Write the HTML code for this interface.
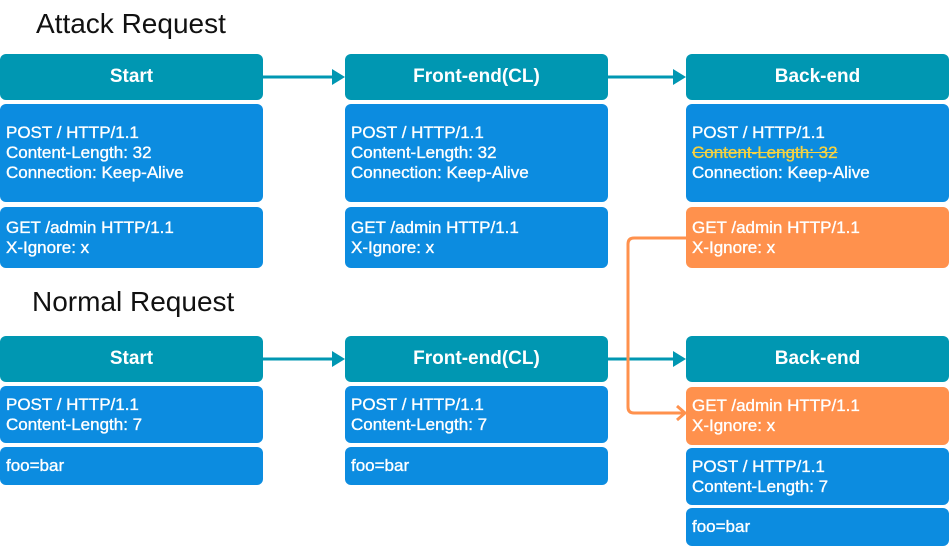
<!DOCTYPE html>
<html><head><meta charset="utf-8"><style>
body{margin:0;width:950px;height:546px;background:#fff;position:relative;overflow:hidden;font-family:"Liberation Sans",sans-serif}
.b{position:absolute;border-radius:6px;color:#fff;box-sizing:border-box}
.h{background:#0097b2;font-weight:bold;font-size:19px;text-align:center;line-height:46px;height:46px}
.t,.o{font-size:17px;line-height:20px;padding-left:6px;-webkit-text-stroke:0.35px #fff}
.t{background:#0c8ce0}
.o{background:#ff914d}
.ti{position:absolute;font-size:28px;color:#111}
s{color:#f5d142;-webkit-text-stroke:0.35px #f5d142;text-decoration-color:#f5d142}
</style></head><body>
<div class="ti" style="left:36px;top:8px">Attack Request</div>
<div class="ti" style="left:32px;top:286px">Normal Request</div>

<div class="b h" style="left:0;top:54px;width:263px">Start</div>
<div class="b t" style="left:0;top:104px;width:263px;height:98px;padding-top:19px">POST / HTTP/1.1<br>Content-Length: 32<br>Connection: Keep-Alive</div>
<div class="b t" style="left:0;top:207px;width:263px;height:61px;padding-top:11px">GET /admin HTTP/1.1<br>X-Ignore: x</div>

<div class="b h" style="left:345px;top:54px;width:263px">Front-end(CL)</div>
<div class="b t" style="left:345px;top:104px;width:263px;height:98px;padding-top:19px">POST / HTTP/1.1<br>Content-Length: 32<br>Connection: Keep-Alive</div>
<div class="b t" style="left:345px;top:207px;width:263px;height:61px;padding-top:11px">GET /admin HTTP/1.1<br>X-Ignore: x</div>

<div class="b h" style="left:686px;top:54px;width:263px">Back-end</div>
<div class="b t" style="left:686px;top:104px;width:263px;height:98px;padding-top:19px">POST / HTTP/1.1<br><s>Content-Length: 32</s><br>Connection: Keep-Alive</div>
<div class="b o" style="left:686px;top:207px;width:263px;height:61px;padding-top:11px">GET /admin HTTP/1.1<br>X-Ignore: x</div>

<div class="b h" style="left:0;top:336px;width:263px">Start</div>
<div class="b t" style="left:0;top:386px;width:263px;height:57px;padding-top:9px">POST / HTTP/1.1<br>Content-Length: 7</div>
<div class="b t" style="left:0;top:447px;width:263px;height:38px;line-height:38px">foo=bar</div>

<div class="b h" style="left:345px;top:336px;width:263px">Front-end(CL)</div>
<div class="b t" style="left:345px;top:386px;width:263px;height:57px;padding-top:9px">POST / HTTP/1.1<br>Content-Length: 7</div>
<div class="b t" style="left:345px;top:447px;width:263px;height:38px;line-height:38px">foo=bar</div>

<div class="b h" style="left:686px;top:336px;width:263px">Back-end</div>
<div class="b o" style="left:686px;top:387px;width:263px;height:58px;padding-top:9px">GET /admin HTTP/1.1<br>X-Ignore: x</div>
<div class="b t" style="left:686px;top:448px;width:263px;height:57px;padding-top:9px">POST / HTTP/1.1<br>Content-Length: 7</div>
<div class="b t" style="left:686px;top:508px;width:263px;height:38px;line-height:38px">foo=bar</div>

<svg style="position:absolute;left:0;top:0" width="950" height="546">
<g stroke="#0097b2" stroke-width="3" fill="#0097b2">
<line x1="263" y1="77" x2="334" y2="77"/><polygon points="332,69 345,77 332,85" stroke="none"/>
<line x1="608" y1="77" x2="675" y2="77"/><polygon points="673,69 686,77 673,85" stroke="none"/>
<line x1="263" y1="359" x2="334" y2="359"/><polygon points="332,351 345,359 332,367" stroke="none"/>
<line x1="608" y1="359" x2="675" y2="359"/><polygon points="673,351 686,359 673,367" stroke="none"/>
</g>
<path d="M686 238 H634 Q628 238 628 244 V407 Q628 413 634 413 H684" stroke="#ff914d" stroke-width="3" fill="none"/>
<polyline points="677,406 685,413 677,420" stroke="#ff914d" stroke-width="3" fill="none"/>
</svg>
</body></html>
